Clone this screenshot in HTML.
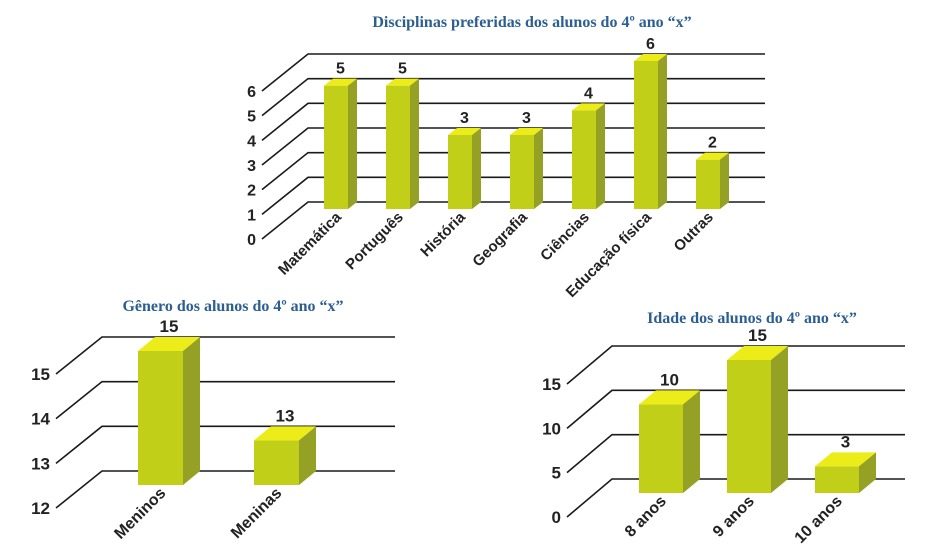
<!DOCTYPE html>
<html><head><meta charset="utf-8"><style>
body{margin:0;background:#fff;width:929px;height:560px;overflow:hidden}
svg{position:absolute;left:0;top:0}
text{font-family:"Liberation Sans",sans-serif;font-weight:bold;fill:#222}
.t{font-family:"Liberation Serif",serif;fill:#2b5f91;font-size:16px}
</style></head><body>
<svg id="s" width="929" height="560">
<text class="t" x="532" y="27" text-anchor="middle">Disciplinas preferidas dos alunos do 4º ano “x”</text>
<text class="t" x="233" y="311" text-anchor="middle">Gênero dos alunos do 4º ano “x”</text>
<text class="t" x="752" y="323" text-anchor="middle">Idade dos alunos do 4º ano “x”</text>
</svg>
<script>
const subjCategories=["Matemática","Português","História","Geografia","Ciências","Educação física","Outras"];
const subjValues=[5,5,3,3,4,6,2];
const subjTicks=[0,1,2,3,4,5,6];
const genderCategories=["Meninos","Meninas"];
const genderValues=[15,13];
const genderTicks=[12,13,14,15];
const ageCategories=["8 anos","9 anos","10 anos"];
const ageValues=[10,15,3];
const ageTicks=[0,5,10,15];

const NS="http://www.w3.org/2000/svg";
const svg=document.getElementById('s');
function mk(tag,attrs){const e=document.createElementNS(NS,tag);for(const k in attrs)e.setAttribute(k,attrs[k]);svg.appendChild(e);return e;}

function draw(prefix,cats,vals,ticks,g){
  const min=ticks[0],max=ticks[ticks.length-1];
  const y=v=>g.base-(v-min)/(max-min)*(g.base-g.top);
  ticks.forEach(t=>{
    const yy=y(t);
    const gl=mk('polyline',{points:`${g.fx},${yy+g.ddy} ${g.x0},${yy} ${g.x1},${yy}`,fill:'none',stroke:'#1a1a1a','stroke-width':1.6});
    
    
    const tl=mk('text',{x:g.fx-6,y:yy+g.ddy+6,'text-anchor':'end','font-size':g.fs});
    tl.textContent=t;
    
    
  });
  cats.forEach((c,i)=>{
    const bx=g.b0+i*g.step, w=g.bw, d=g.dx, dy=g.dy;
    const bb=g.base+dy, bt=y(vals[i])+dy;
    const grp=mk('g',{});
    
    
    const f=document.createElementNS(NS,'rect');f.setAttribute('x',bx);f.setAttribute('y',bt);f.setAttribute('width',w);f.setAttribute('height',bb-bt);f.setAttribute('fill','#c2cf18');grp.appendChild(f);
    const tp=document.createElementNS(NS,'polygon');tp.setAttribute('points',`${bx},${bt} ${bx+d},${bt-dy} ${bx+w+d},${bt-dy} ${bx+w},${bt}`);tp.setAttribute('fill','#ecec18');grp.appendChild(tp);
    const sd=document.createElementNS(NS,'polygon');sd.setAttribute('points',`${bx+w},${bt} ${bx+w+d},${bt-dy} ${bx+w+d},${bb-dy} ${bx+w},${bb}`);sd.setAttribute('fill','#95a124');grp.appendChild(sd);
    const vl=mk('text',{x:bx+(w+d)/2,y:bt-dy-5,'text-anchor':'middle','font-size':g.fs});
    vl.textContent=vals[i];
    
    
    const ax=bx+w/2+6, ay=bb+9;
    const cl=mk('text',{x:ax,y:ay,'text-anchor':'end','font-size':g.fs-1,transform:`rotate(-45 ${ax} ${ay})`});
    cl.textContent=c;
    
    
  });
}
draw('subjects',subjCategories,subjValues,subjTicks,{base:202,top:54,x0:308,x1:765,fx:262,ddy:37,b0:324,step:62,bw:24,dx:9,dy:7,fs:16});
draw('gender',genderCategories,genderValues,genderTicks,{base:471,top:337,x0:102,x1:395,fx:56,ddy:37,b0:138,step:116,bw:45,dx:17,dy:14,fs:17});
draw('age',ageCategories,ageValues,ageTicks,{base:479,top:346,x0:612,x1:905,fx:567,ddy:38,b0:639,step:88,bw:44,dx:17,dy:14,fs:17});
</script>
</body></html>
